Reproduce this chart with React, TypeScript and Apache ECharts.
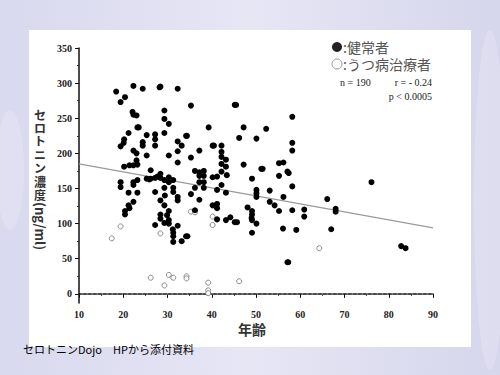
import React, { useEffect, useRef } from "react";
import * as echarts from "echarts";

// 健常者 (healthy) — age, serotonin (ng/ml)
const healthyAge = [
  18.4, 19.4, 20.4, 22.3, 24.4, 28.4, 28.2, 32.3, 29.3, 29.3, 30.3, 29.3, 35.3, 45.2, 45.5,
  22.1, 22.3, 23.0, 23.2, 23.5, 21.2, 20.2, 20.1, 19.4, 25.3, 24.4, 24.4, 27.2, 27.2, 27.2,
  25.3, 22.3, 23.0, 23.0, 20.2, 21.4, 22.3, 23.2, 30.3, 32.3, 33.2, 32.3, 34.2, 34.4, 32.3,
  35.3, 37.2, 39.3, 40.2, 40.5, 42.2, 42.2, 42.2, 43.2, 42.2, 43.2, 42.2, 46.2, 47.2, 47.2,
  50.1, 52.3, 51.2, 51.5, 49.1, 58.2, 58.2, 58.2, 55.2, 56.2, 57.1, 57.4, 55.2, 58.2, 53.1,
  50.1, 50.1, 50.1, 56.2, 53.1, 54.2, 55.2, 58.2, 56.1, 59.1, 60.9, 60.9, 66.1, 68.0, 68.0,
  67.0, 76.1, 82.8, 83.8, 57.1, 57.3, 49.1, 50.1, 49.1, 49.1, 48.1, 49.1, 49.0, 19.4, 19.4,
  21.2, 23.2, 22.3, 22.3, 23.2, 22.3, 21.2, 20.4, 20.4, 21.4, 25.3, 26.2, 26.2, 27.2, 28.4,
  28.4, 29.3, 29.3, 30.3, 30.3, 31.3, 31.3, 31.3, 32.3, 32.3, 27.2, 28.4, 29.3, 28.4, 28.4,
  30.3, 30.3, 29.3, 30.3, 27.2, 31.3, 31.3, 31.3, 32.3, 33.2, 34.2, 34.5, 35.3, 36.2, 36.2,
  37.2, 37.2, 37.2, 36.2, 38.2, 38.2, 38.2, 38.2, 37.2, 41.2, 41.2, 42.2, 43.2, 40.2, 41.2,
  41.2, 41.2, 43.2, 44.2, 45.2, 45.7, 40.2, 29.4, 29.9, 43.4, 31.2, 25.9, 27.7,
];
const healthyVal = [
  288, 273, 280, 296, 292, 295, 294, 292, 261, 249, 242, 229, 268, 269, 269,
  259, 255, 254, 237, 237, 229, 220, 215, 210, 226, 216, 211, 227, 220, 211,
  197, 204, 200, 190, 181, 183, 183, 184, 197, 203, 211, 217, 225, 225, 187,
  194, 204, 237, 211, 211, 211, 202, 195, 191, 185, 181, 174, 222, 237, 184,
  221, 235, 178, 178, 164, 252, 215, 204, 186, 187, 174, 172, 168, 153, 147,
  148, 143, 138, 138, 131, 126, 118, 119, 93, 91, 120, 110, 135, 121, 117,
  92, 159, 68, 65, 45, 45, 87, 100, 105, 118, 123, 113, 108, 159, 152,
  144, 144, 159, 155, 162, 131, 126, 118, 113, 122, 164, 176, 164, 165, 171,
  165, 162, 151, 166, 159, 162, 151, 145, 138, 133, 145, 133, 126, 113, 107,
  118, 105, 101, 100, 98, 87, 82, 74, 97, 75, 82, 82, 142, 151, 119,
  134, 159, 168, 175, 175, 168, 159, 151, 173, 167, 148, 155, 144, 126, 128,
  122, 106, 105, 109, 102, 102, 166, 140, 112, 169, 92, 163, 167,
];

// うつ病治療者 (patients under depression treatment)
const patientAge = [17.4, 19.4, 28.4, 35.3, 36.2, 40.2, 40.2, 64.3, 26.2, 29.3, 30.3, 31.3, 34.3, 34.3, 39.2, 39.2, 39.2, 46.2];
const patientVal = [79, 96, 86, 117, 116, 110, 98, 65, 23, 12, 27, 23, 25, 22, 16, 5, 1, 18];

// regression line (r = -0.24)
const regressionAge = [10, 90];
const regressionVal = [185, 94];

const yLabelTicks = [0, 50, 100, 150, 200, 250, 300, 350];
const yMinorTicks = [25, 75, 125, 175, 225, 275, 325];

const yTitleChars = ["セ", "ロ", "ト", "ニ", "ン", "濃", "度"];

const tickFont = "'Liberation Serif', 'DejaVu Serif', serif";
const jpFont = "'Noto Sans CJK JP', 'Noto Sans', sans-serif";

export default function App() {
  const ref = useRef<HTMLDivElement>(null);

  useEffect(() => {
    if (!ref.current) return;
    const chart = echarts.init(ref.current, undefined, { renderer: "svg" });
    const zip = (a: number[], b: number[]) => a.map((v, i) => [v, b[i]]);

    const yTitle = yTitleChars.map((ch, i) => ({
      type: "text",
      z: 5,
      x: 40,
      y: 114 + i * 13.4,
      style: {
        text: ch,
        font: `bold 12px ${jpFont}`,
        fill: "#333",
        align: "center",
        verticalAlign: "middle",
      },
    }));

    chart.setOption({
      animation: false,
      graphic: [
        {
          type: "rect",
          z: -10,
          shape: { x: 0, y: 0, width: 500, height: 375 },
          style: {
            fill: new echarts.graphic.LinearGradient(0, 0, 1, 0, [
              { offset: 0, color: "#d9d9ef" },
              { offset: 0.5, color: "#e6e6f5" },
              { offset: 1, color: "#d6d6ec" },
            ]),
          },
        },
        {
          type: "ellipse",
          z: -9,
          shape: { cx: 10, cy: 170, rx: 14, ry: 60 },
          style: { fill: "rgba(255,255,255,0.18)" },
        },
        {
          type: "ellipse",
          z: -9,
          shape: { cx: 490, cy: 200, rx: 16, ry: 170 },
          style: { fill: "rgba(255,255,255,0.18)" },
        },
        {
          type: "rect",
          z: -8,
          shape: { x: 29, y: 30, width: 442, height: 317 },
          style: { fill: "#ffffff" },
        },
        ...yTitle,
        {
          type: "text",
          z: 5,
          x: 40,
          y: 226,
          rotation: -Math.PI / 2,
          style: {
            text: "(ng/ml)",
            font: `bold 13px ${jpFont}`,
            fill: "#333",
            align: "center",
            verticalAlign: "middle",
          },
        },
        // x-axis title
        {
          type: "text",
          z: 5,
          x: 252,
          y: 329,
          style: {
            text: "年齢",
            font: `bold 14px ${jpFont}`,
            fill: "#333",
            align: "center",
            verticalAlign: "middle",
          },
        },
        // legend
        {
          type: "circle",
          z: 5,
          shape: { cx: 337, cy: 47, r: 5 },
          style: { fill: "#222" },
        },
        {
          type: "text",
          z: 5,
          x: 343,
          y: 47,
          style: { text: ":健常者", font: `14px ${jpFont}`, fill: "#555", verticalAlign: "middle" },
        },
        {
          type: "circle",
          z: 5,
          shape: { cx: 337, cy: 64, r: 5 },
          style: { fill: "#fff", stroke: "#999", lineWidth: 1 },
        },
        {
          type: "text",
          z: 5,
          x: 343,
          y: 64,
          style: { text: ":うつ病治療者", font: `14px ${jpFont}`, fill: "#555", verticalAlign: "middle" },
        },
        {
          type: "text",
          z: 5,
          x: 340,
          y: 82,
          style: { text: "n = 190", font: `10px ${tickFont}`, fill: "#222", verticalAlign: "middle" },
        },
        {
          type: "text",
          z: 5,
          x: 432,
          y: 82,
          style: { text: "r = - 0.24", font: `10px ${tickFont}`, fill: "#222", align: "right", verticalAlign: "middle" },
        },
        {
          type: "text",
          z: 5,
          x: 432,
          y: 96,
          style: { text: "p < 0.0005", font: `10px ${tickFont}`, fill: "#222", align: "right", verticalAlign: "middle" },
        },
        // caption
        {
          type: "text",
          z: 5,
          x: 23,
          y: 349,
          style: { text: "セロトニンDojo　HPから添付資料", font: `11px ${jpFont}`, fill: "#000", verticalAlign: "middle" },
        },
      ],
      grid: { left: 79, right: 67, top: 48, bottom: 72, containLabel: false },
      xAxis: {
        type: "value",
        min: 10,
        max: 90,
        interval: 10,
        axisLine: { show: true, lineStyle: { color: "#111", width: 1.5 } },
        axisTick: { show: true, length: 4, lineStyle: { color: "#111" } },
        minorTick: { show: true, splitNumber: 2, length: 2, lineStyle: { color: "#333" } },
        axisLabel: { margin: 6, fontFamily: tickFont, fontSize: 10, fontWeight: "bold", color: "#222" },
        splitLine: { show: false },
      },
      yAxis: [
        {
          type: "value",
          min: -13,
          max: 350,
          position: "left",
          axisLine: { show: true, onZero: false, lineStyle: { color: "#111", width: 1.5 } },
          axisTick: { show: true, length: 4, customValues: yLabelTicks, lineStyle: { color: "#111" } },
          axisLabel: {
            margin: 7,
            customValues: yLabelTicks,
            fontFamily: tickFont,
            fontSize: 10,
            fontWeight: "bold",
            color: "#222",
          },
          splitLine: { show: false },
        },
        {
          type: "value",
          min: -13,
          max: 350,
          position: "left",
          axisLine: { show: false },
          axisTick: { show: true, length: 2, customValues: yMinorTicks, lineStyle: { color: "#333" } },
          axisLabel: { show: false },
          splitLine: { show: false },
        },
      ],
      series: [
        {
          type: "line",
          data: [
            [10.6, 0],
            [90, 0],
          ],
          symbol: "none",
          lineStyle: { color: "#b0b0b0", width: 1, type: [1.5, 3.5] },
          silent: true,
          z: 1,
        },
        {
          type: "line",
          data: zip(regressionAge, regressionVal),
          symbol: "none",
          lineStyle: { color: "#9a9a9a", width: 1.2 },
          silent: true,
          z: 1,
        },
        {
          name: "うつ病治療者",
          type: "scatter",
          data: zip(patientAge, patientVal),
          symbol: "circle",
          symbolSize: 5,
          itemStyle: { color: "#fff", borderColor: "#888", borderWidth: 1, opacity: 1 },
          z: 3,
        },
        {
          name: "健常者",
          type: "scatter",
          data: zip(healthyAge, healthyVal),
          symbol: "circle",
          symbolSize: 6,
          itemStyle: { color: "#000", opacity: 1 },
          z: 4,
        },
      ],
    });

    return () => chart.dispose();
  }, []);

  return (
    <div
      ref={ref}
      style={{ position: "absolute", left: 0, top: 0, width: 500, height: 375 }}
    />
  );
}
